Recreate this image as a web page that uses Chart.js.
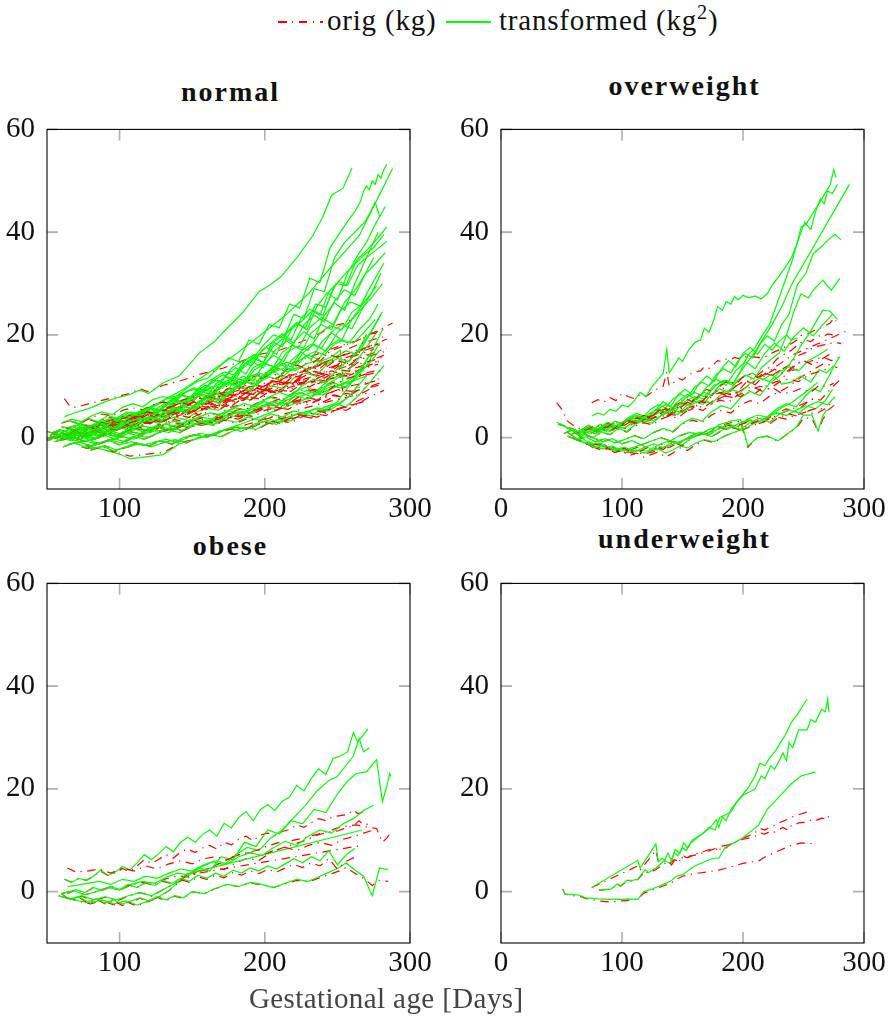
<!DOCTYPE html>
<html><head><meta charset="utf-8">
<script src="https://cdn.jsdelivr.net/npm/chart.js@4.4.0/dist/chart.umd.min.js"></script>
<style>
html,body{margin:0;padding:0;overflow:hidden;background:#fff;}
body{width:891px;height:1021px;position:relative;}
canvas{position:absolute;}
.t{position:absolute;line-height:1;white-space:nowrap;font-family:'Liberation Serif','DejaVu Serif',serif;color:#111;}
.title{font-weight:bold;font-size:28px;letter-spacing:2px;text-align:center;width:363px;padding-left:2px;}
.leg{font-size:29px;letter-spacing:0.8px;top:5.7px;}
.sample{position:absolute;top:21px;width:45px;height:1.6px;}
sup{font-size:70%;line-height:0;vertical-align:0.55em;}
</style>
</head><body>
<div class="sample" style="left:278px;background:repeating-linear-gradient(to right,#ff0000 0 8.5px,transparent 8.5px 14px,#ff0000 14px 15.3px,transparent 15.3px 21px);"></div>
<div class="t leg" style="left:327px;">orig (kg)</div>
<div class="sample" style="left:446px;background:#00ff00;"></div>
<div class="t leg" style="left:499px;">transformed (kg<sup>2</sup>)</div>

<div class="t title" style="left:47px;top:78.2px;">normal</div>
<div class="t title" style="left:501px;top:71.5px;">overweight</div>
<div class="t title" style="left:47px;top:531.5px;">obese</div>
<div class="t title" style="left:501px;top:524.8px;">underweight</div>

<canvas id="cNormal" width="437" height="440" style="left:0px;top:100px;"></canvas>
<canvas id="cOver" width="437" height="440" style="left:454px;top:100px;"></canvas>
<canvas id="cObese" width="437" height="440" style="left:0px;top:554px;"></canvas>
<canvas id="cUnder" width="437" height="440" style="left:454px;top:554px;"></canvas>

<div class="t" style="left:249px;top:984px;font-size:29px;letter-spacing:0.4px;color:#444;">Gestational age [Days]</div>

<script>
// ---------------- DATA ----------------
const yTicks = [0, 20, 40, 60];
const xTicksNarrow = [100, 200, 300];
const xTicksWide = [0, 100, 200, 300];

// normal
const normalDays = [
 [62,66,70,80,90,100,107,114,120,130,141,148,155,165,172,185,196,204,211,222,233,240,246,254,260],
 [52,58,64,70,77,84,91,98,105,112,119,126,133,140,147,154,161,168,175,182,189,196,203,210,217,224,231,238,245,252,258,262,266,268,270,272,274,276,278,280,282,284],
 [55,65,75,85,100,115,130,145,160,175,190,200,215,230,245,265,288],
 [50,57,63,70,77,84,92,99,106,113,121,128,135,143,150,157,164,171,178,185,192,199,206,213,220,227,234,241,248,255,262,269,273,276,279],
 [54,60,67,74,81,88,95,102,109,116,123,130,137,144,151,158,165,172,179,186,193,200,207,214,221,228,235,242,249,256,263,270,277,284],
 [58,65,72,79,86,93,100,107,114,121,128,135,142,149,156,163,170,177,184,191,198,205,212,219,226,233,240,247,254,261,268,275,282],
 [51,56,62,69,75,82,88,95,101,108,114,121,127,134,140,147,153,160,166,173,179,186,192,199,205,212,218,225,231,238,244,251,257,264,270,277,284],
 [60,67,73,80,87,94,101,108,115,122,129,136,143,150,157,164,171,178,185,192,199,206,213,220,227,234,241,248,255,262,269,276,283],
 [53,59,66,72,79,86,92,99,106,112,119,126,132,139,146,152,159,166,172,179,186,192,199,206,212,219,226,232,239,246,252,259,266,272,276,282],
 [57,64,71,78,85,92,99,106,113,120,127,134,141,148,155,162,169,176,183,190,197,204,211,218,225,232,239,246,253,260,267,274,280],
 [50,58,65,73,80,88,95,103,110,118,125,133,140,148,155,163,170,178,185,193,200,208,215,223,230,238,245,253,260,268,277],
 [62,69,76,83,90,97,104,111,118,125,132,139,146,153,160,167,174,181,188,195,202,209,216,223,230,237,244,251,258,265,272,278],
 [55,63,70,78,85,93,100,108,115,123,130,138,145,153,160,168,175,183,190,198,205,213,220,228,235,243,250,258,265,273,281],
 [66,72,79,85,92,98,105,111,118,124,131,137,144,150,157,163,170,176,183,189,196,202,209,215,222,228,235,241,248,254,261,268,276],
 [52,60,68,76,84,92,100,108,116,124,132,140,148,156,164,172,180,188,196,204,212,220,228,236,244,252,260,268,275,281],
 [60,67,74,81,88,95,102,109,116,123,130,137,144,151,158,165,172,179,186,193,200,207,214,221,228,235,242,249,256,263,270],
 [70,78,86,94,102,110,118,126,134,142,150,158,166,174,182,190,198,206,214,222,230,238,246,254,262,270,279],
 [56,63,70,77,84,91,98,105,112,119,126,133,140,147,154,161,168,175,182,189,196,203,210,217,224,231,238,245,252,254],
 [64,72,80,88,96,104,112,120,128,136,144,152,160,168,176,184,192,200,208,216,224,232,240,248,256,264,272],
 [74,82,90,98,106,114,122,130,138,146,154,162,170,178,186,194,202,210,218,226,234,242,250,258,268],
 [76,84,92,100,107,114,122,130,136,141,148,156,164,172,180,188,196,204,212,220,228,236,244,252,260,270],
 [68,76,84,92,100,108,116,124,132,140,148,156,164,172,180,188,196,204,212,220,228,236,244,252,258,265],
 [54,61,68,75,82,89,96,103,110,117,124,131,138,145,152,159,166,173,180,187,194,201,208,215,222,229,236,243,250,257,264,270,276,283],
 [59,66,73,80,87,94,101,108,115,122,129,136,143,150,157,164,171,178,185,192,199,206,213,220,227,234,241,248,255,262,270,278],
 [63,71,79,87,95,103,111,119,127,135,143,151,159,167,175,183,191,199,207,215,223,231,239,247,255,263,269,275],
 [50,57,64,71,78,85,92,99,106,113,120,127,134,141,148,155,162,169,176,183,190,197,204,211,218,225,232,239,246,253,260,267,274,281],
 [66,74,82,90,98,106,114,122,130,138,146,154,162,170,178,186,194,202,210,218,226,234,242,250,258,264,270],
 [58,66,74,82,90,98,106,114,122,130,138,146,154,162,170,178,186,194,202,210,218,226,234,242,250,258,266,273,280],
 [61,69,77,85,93,101,109,117,125,133,141,149,157,165,173,181,189,197,205,213,221,229,237,245,253,261,268,276],
 [72,80,88,96,104,112,120,128,136,144,152,160,168,176,184,192,200,208,216,224,232,240,248,256,264,272,279],
 [80,88,96,104,112,120,128,136,144,152,160,168,176,184,192,200,208,216,224,232,240,248,256,264,272,282],
 [60,68,76,84,92,100,108,116,124,132,140,148,156,164,172,180,188,196,204,212,220,228,236,244,252,260,270]
];
const normalOrig = [
 [7.6,6.0,5.9,6.7,7.4,8.1,8.6,9.5,8.9,10.2,11.0,11.6,12.3,13.0,13.6,15.0,16.2,16.6,17.1,18.3,19.6,20.6,21.7,22.2,23.0],
 [0.4,1.1,0.6,1.5,1.2,2.2,2.0,3.1,3.6,3.3,4.6,5.0,5.8,6.1,7.0,7.6,7.9,8.9,9.6,9.4,11.2,11.0,12.4,12.2,13.6,13.4,15.1,14.9,16.8,17.6,18.3,18.7,19.2,19.7,20.0,19.8,20.4,20.2,20.8,20.6,21.2,21.6],
 [0.1,0.6,0.3,1.2,2.5,3.8,5.6,7.0,8.6,10.1,11.6,12.6,14.0,15.6,17.2,19.0,22.3],
 [-0.2,0.5,0.2,1.0,0.7,1.8,1.4,2.5,2.2,3.3,3.9,3.6,4.8,5.4,5.1,6.4,7.0,6.7,8.0,8.6,9.0,10.0,10.8,11.5,12.2,13.0,13.8,14.6,15.4,16.2,16.8,17.4,17.9,18.4,18.0],
 [0.8,0.3,1.2,0.9,1.8,2.5,2.1,3.2,3.8,3.5,4.7,5.3,5.0,6.3,6.9,6.6,7.9,8.5,8.2,9.6,10.1,9.8,11.2,11.8,12.6,13.3,14.0,14.8,15.5,16.2,17.0,17.6,18.3,19.2],
 [1.5,1.0,2.0,1.6,2.6,2.2,3.3,3.0,4.1,4.6,4.3,5.5,6.1,5.8,7.1,7.7,7.4,8.8,9.4,9.0,10.4,11.1,10.7,12.2,12.8,13.6,13.2,14.7,15.3,16.1,16.9,17.6,18.4],
 [-0.6,0.2,-0.3,0.8,0.4,1.0,1.8,1.2,2.4,2.0,3.1,2.7,3.9,4.4,4.0,5.3,5.9,5.5,6.8,7.4,7.0,8.5,9.2,8.6,10.2,10.8,10.3,11.8,12.4,12.0,13.6,14.2,13.9,15.3,16.0,16.7,17.4],
 [2.1,1.7,2.6,2.2,3.0,2.7,3.6,4.2,3.8,4.9,5.4,5.0,6.2,6.8,6.4,7.6,8.2,7.8,9.1,9.7,9.3,10.7,11.3,10.9,12.3,12.9,12.5,13.9,14.6,14.2,15.6,16.2,16.8],
 [0.9,1.5,1.0,1.9,1.5,2.4,2.0,3.0,2.7,3.6,4.2,3.8,4.9,5.4,5.0,6.2,6.7,6.3,7.5,8.0,7.6,8.9,9.4,9.0,10.3,10.9,10.5,11.9,12.5,12.1,13.5,14.1,13.8,15.0,15.4,16.0],
 [0.2,-0.4,0.5,0.1,1.0,0.6,1.6,2.2,1.8,2.9,3.5,3.1,4.3,4.9,4.5,5.8,6.4,6.0,7.3,7.9,7.5,8.8,9.4,9.0,10.4,11.0,10.6,12.0,12.6,12.3,13.6,14.3,15.0],
 [1.2,0.6,1.6,1.1,2.1,1.6,2.7,2.2,3.4,3.0,4.2,4.8,4.4,5.6,6.2,5.8,7.0,7.6,7.2,8.6,9.2,8.8,10.2,10.8,10.4,11.8,12.4,12.0,13.4,14.0,14.8],
 [0.5,1.0,0.6,1.4,1.0,1.9,2.5,2.1,3.2,3.8,3.4,4.5,5.1,4.7,5.9,6.5,6.1,7.3,7.9,7.5,8.8,9.4,9.0,10.3,10.9,10.5,11.8,12.4,12.0,13.2,13.8,14.3],
 [-0.8,-0.2,-0.6,0.3,-0.1,0.9,0.5,1.5,2.1,1.7,2.9,3.5,3.1,4.3,4.9,4.5,5.8,6.4,6.0,7.3,7.9,7.5,8.8,9.4,9.0,10.4,11.0,10.6,11.9,12.4,13.0],
 [3.2,2.6,3.5,3.0,4.0,3.6,4.5,4.1,5.1,4.7,5.7,6.2,5.8,6.8,7.3,6.9,7.9,8.4,8.0,9.1,9.6,9.2,10.3,10.8,10.4,11.5,12.0,11.6,12.7,13.1,12.8,13.6,14.4],
 [0.3,-0.5,0.0,-0.8,-0.2,0.6,0.1,1.1,0.7,1.8,2.4,2.0,3.1,3.6,3.3,4.4,5.0,4.6,5.8,6.4,6.0,7.2,7.8,7.4,8.7,9.3,9.0,10.3,11.0,11.8],
 [2.8,3.4,3.0,4.0,4.6,4.2,5.3,5.8,5.4,6.4,6.9,6.5,7.4,7.9,7.5,8.3,8.8,8.4,9.2,9.7,9.3,10.1,10.6,10.2,11.0,11.4,11.0,11.7,12.1,11.8,12.4],
 [-1.0,-0.4,-1.2,-0.5,0.2,-0.3,0.8,1.4,1.0,2.1,2.7,2.3,3.4,4.0,3.6,4.8,5.4,5.0,6.2,6.8,6.4,7.6,8.2,7.9,9.0,9.8,10.6],
 [0.6,0.0,1.0,0.4,1.5,1.1,2.1,1.7,2.8,3.4,3.0,4.2,4.8,4.4,5.6,6.2,5.8,7.0,7.6,7.2,8.4,9.0,8.6,9.8,10.3,9.9,11.0,11.5,11.8,8.6],
 [-1.4,-0.8,-1.6,-1.0,-0.2,-0.8,0.4,0.0,1.1,1.7,1.3,2.5,3.1,2.7,3.9,4.5,4.1,5.3,5.9,5.5,6.7,7.3,6.9,8.0,8.6,8.2,9.4],
 [-1.8,-2.2,-1.6,-2.4,-1.8,-1.2,-1.8,-1.0,-0.4,-1.0,0.0,0.6,0.2,1.3,1.9,1.5,2.7,3.3,2.9,4.1,4.7,4.3,5.5,6.1,7.0],
 [-1.5,-2.0,-2.6,-3.0,-3.6,-3.4,-3.1,-2.9,-2.0,-1.0,-0.6,0.0,0.6,1.3,1.9,2.6,3.2,3.9,4.5,5.1,5.8,6.4,7.0,7.6,8.1,8.6],
 [0.0,-0.6,-1.2,-0.5,-1.4,-0.8,-1.5,-0.9,-0.3,-0.9,0.2,0.8,0.4,1.4,2.0,1.6,2.6,3.2,2.8,3.8,4.4,4.0,5.0,5.6,6.2,6.8],
 [1.0,0.4,1.3,1.9,1.5,2.6,3.1,2.7,3.9,4.6,4.1,5.5,6.3,5.8,7.3,8.2,7.6,9.2,10.1,9.4,11.1,12.0,11.3,13.2,14.1,13.5,15.2,16.2,15.7,17.2,18.1,18.6,19.2,19.7],
 [-0.6,0.3,-0.2,0.9,0.4,1.5,2.1,1.7,2.9,3.5,3.0,4.5,5.2,4.7,6.3,7.1,6.6,8.2,9.0,8.4,10.1,11.0,10.4,12.1,13.0,12.4,14.2,15.1,14.6,16.4,17.5,18.2],
 [1.8,2.4,2.0,2.9,3.5,3.0,4.3,5.0,4.5,6.0,6.8,6.2,7.8,8.7,8.0,9.7,10.6,9.9,11.5,12.4,11.8,13.4,14.2,13.6,15.2,16.0,16.6,17.2],
 [-0.5,0.4,-0.1,0.8,0.3,1.2,0.8,1.8,1.4,2.4,3.0,2.5,3.8,4.4,3.9,5.3,6.0,5.4,7.0,7.8,7.2,8.8,9.6,8.9,10.5,11.3,10.6,12.2,13.0,12.4,13.9,14.5,15.0,15.6],
 [0.8,1.5,1.0,2.0,1.5,2.8,3.4,2.9,4.2,5.0,4.4,5.9,6.8,6.1,7.8,8.7,8.1,9.9,10.9,10.2,11.8,12.8,12.0,13.8,14.6,15.4,16.2],
 [0.2,-0.7,0.4,-0.2,0.8,0.2,1.2,1.7,1.1,2.4,2.9,2.4,3.6,4.3,3.8,5.1,5.8,5.3,6.7,7.5,6.9,8.5,9.4,8.8,10.6,11.6,12.3,12.8,13.2],
 [-1.8,-1.0,-2.1,-1.3,-0.4,-1.1,0.2,-0.3,0.8,1.5,0.9,2.2,2.9,2.4,3.8,4.5,4.0,5.4,6.2,5.6,7.1,7.8,7.2,8.8,9.6,10.2,10.6,11.0],
 [0.4,-0.4,0.6,-0.2,1.0,0.4,1.5,2.0,1.5,2.7,3.2,2.7,3.9,4.5,4.0,5.3,5.9,5.3,6.6,7.2,6.6,7.8,8.3,7.7,9.2,9.8,10.2],
 [-2.5,-1.7,-2.8,-1.9,-1.0,-1.7,-0.6,-1.3,0.0,0.6,0.0,1.2,1.7,1.2,2.4,3.0,2.5,3.6,4.3,3.8,5.1,5.8,5.3,6.6,7.9,9.2],
 [0.8,0.2,1.0,0.4,1.4,0.8,1.7,1.2,2.1,1.5,2.5,1.9,2.8,2.3,3.4,2.8,3.7,3.2,4.2,3.7,4.7,4.2,5.2,4.7,5.8,6.6,8.0]
];
const normalTrans = [
 [4.1,4.5,4.9,5.8,7.0,7.9,8.4,9.3,8.6,10.7,12.0,14.2,16.5,18.6,20.7,24.4,28.4,29.8,31.3,35.0,39.3,43.0,47.2,48.6,52.5],
 [0.4,1.2,0.6,1.6,1.3,2.5,2.2,3.6,4.3,3.9,5.8,6.5,7.7,8.2,9.8,11.0,11.6,13.6,15.5,14.8,19.0,18.2,22.0,21.4,26.0,25.2,31.0,30.2,37.0,40.0,42.5,44.0,46.0,48.0,49.0,48.2,50.0,49.3,51.2,50.5,52.2,53.2],
 [0.1,0.6,0.3,1.3,2.8,4.6,7.2,9.6,12.4,15.2,18.4,20.6,24.0,28.0,33.0,39.3,52.4],
 [-0.2,0.5,0.2,1.0,0.7,2.0,1.5,2.9,2.5,4.0,4.9,4.5,6.3,7.2,6.8,8.9,10.0,9.6,12.0,14.0,15.5,18.0,20.0,19.4,24.0,23.2,29.0,28.4,35.0,38.0,40.0,42.0,44.0,45.8,43.2],
 [0.8,0.3,1.2,0.9,2.0,2.9,2.4,3.8,4.6,4.2,6.0,7.0,6.5,8.6,9.7,9.2,11.6,12.8,12.2,15.0,16.2,15.6,18.8,20.2,22.2,21.4,26.0,25.4,30.0,29.6,34.5,36.4,38.6,41.0],
 [1.5,1.0,2.1,1.7,2.9,2.4,3.9,3.5,5.0,5.8,5.4,7.3,8.3,7.9,10.1,11.3,10.8,13.5,14.8,14.0,17.0,18.6,17.7,21.3,22.8,24.8,23.8,29.0,31.5,33.5,35.5,37.0,39.5],
 [-0.6,0.2,-0.3,0.8,0.4,1.0,2.0,1.3,2.8,2.3,3.8,3.2,5.0,5.8,5.2,7.4,8.6,7.9,10.4,11.8,11.0,14.2,16.0,14.6,18.6,20.2,19.0,23.2,25.0,23.8,28.4,30.4,29.6,33.6,35.0,36.6,38.2],
 [2.1,1.7,2.7,2.3,3.3,2.9,4.1,5.0,4.4,6.2,7.0,6.4,8.4,9.5,8.8,11.0,12.2,11.4,14.0,15.4,14.6,17.8,19.4,18.4,22.0,23.8,22.6,26.6,28.8,27.6,31.8,33.8,36.0],
 [0.9,1.5,1.0,2.0,1.6,2.7,2.2,3.5,3.1,4.4,5.2,4.7,6.3,7.1,6.5,8.4,9.3,8.7,10.8,11.8,11.0,13.6,14.6,13.8,16.6,18.0,17.0,20.4,22.0,21.0,24.6,26.4,25.6,29.0,31.0,34.0],
 [0.2,-0.4,0.5,0.1,1.0,0.6,1.7,2.5,2.0,3.4,4.2,3.7,5.4,6.3,5.7,7.8,8.8,8.2,10.4,11.6,10.9,13.4,14.6,13.8,16.8,18.2,17.4,20.6,22.0,21.2,25.0,28.4,32.0],
 [1.2,0.6,1.6,1.1,2.2,1.7,3.0,2.4,4.0,3.4,5.2,6.2,5.6,7.6,8.6,7.9,10.0,11.2,10.5,13.2,14.4,13.6,16.6,17.8,17.0,20.4,21.8,21.0,24.4,26.2,29.5],
 [0.5,1.0,0.6,1.5,1.1,2.1,2.9,2.4,3.8,4.6,4.1,5.6,6.5,6.0,7.7,8.7,8.1,9.9,10.9,10.3,12.4,13.4,12.8,14.9,16.0,15.3,17.8,19.0,18.4,21.0,23.0,26.0],
 [-0.8,-0.2,-0.6,0.3,-0.1,0.9,0.5,1.6,2.3,1.9,3.3,4.0,3.5,5.0,5.8,5.3,7.0,7.9,7.3,9.2,10.1,9.5,11.6,12.6,12.0,14.3,15.4,14.8,17.4,20.6,24.5],
 [3.3,2.7,3.7,3.1,4.3,3.8,5.0,4.5,5.8,5.3,6.7,7.4,6.9,8.3,9.0,8.4,9.9,10.7,10.1,11.8,12.6,12.0,13.8,14.7,14.0,15.9,16.8,16.1,18.2,19.0,18.4,20.4,23.0],
 [0.3,-0.5,0.0,-0.8,-0.2,0.6,0.1,1.1,0.7,1.9,2.6,2.1,3.4,4.0,3.6,5.0,5.8,5.3,6.9,7.8,7.2,8.9,9.8,9.2,11.2,12.2,11.6,14.0,17.5,21.0],
 [2.9,3.6,3.1,4.3,5.0,4.5,5.9,6.6,6.0,7.4,8.0,7.5,8.7,9.4,8.9,10.0,10.8,10.2,11.4,12.2,11.6,12.9,13.6,13.0,14.3,15.0,14.4,15.8,16.9,16.2,20.0],
 [-1.0,-0.4,-1.2,-0.5,0.2,-0.3,0.8,1.4,1.0,2.2,2.9,2.4,3.7,4.4,4.0,5.4,6.2,5.7,7.2,8.0,7.5,9.0,10.0,9.6,11.2,14.0,18.5],
 [0.6,0.0,1.0,0.4,1.6,1.2,2.3,1.9,3.2,4.0,3.5,5.0,5.8,5.3,6.9,7.8,7.2,8.9,9.8,9.2,10.9,11.8,11.2,13.0,13.8,13.2,14.8,15.6,17.0,10.2],
 [-1.4,-0.8,-1.6,-1.0,-0.2,-0.8,0.4,0.0,1.1,1.8,1.4,2.7,3.4,3.0,4.4,5.1,4.7,6.2,7.0,6.5,8.0,8.8,8.3,9.9,10.8,12.5,16.0],
 [-1.8,-2.2,-1.6,-2.4,-1.8,-1.2,-1.8,-1.0,-0.4,-1.0,0.0,0.6,0.2,1.3,2.0,1.6,2.9,3.6,3.2,4.7,5.6,5.1,7.0,10.0,14.0],
 [-1.5,-2.0,-2.6,-3.2,-4.1,-3.9,-3.6,-3.3,-2.2,-1.2,-0.7,0.0,0.7,1.5,2.3,3.1,4.0,4.9,5.7,6.6,7.5,8.4,9.3,10.2,11.0,12.0],
 [0.0,-0.6,-1.2,-0.5,-1.4,-0.8,-1.5,-0.9,-0.3,-0.9,0.2,0.8,0.4,1.4,2.1,1.7,2.8,3.5,3.0,4.3,5.0,4.5,5.9,6.8,8.0,10.5],
 [1.0,0.4,1.4,2.0,1.5,2.8,3.4,2.9,4.4,5.2,4.6,6.4,7.4,6.7,8.9,10.2,9.3,12.0,13.6,12.4,15.8,17.6,16.2,20.2,22.4,21.0,25.6,28.2,26.8,32.0,35.5,38.0,41.5,45.0],
 [-0.6,0.3,-0.2,0.9,0.4,1.6,2.3,1.8,3.2,4.0,3.4,5.2,6.2,5.5,7.6,8.8,8.0,10.6,12.0,11.0,14.2,16.0,14.8,18.6,20.6,19.2,23.8,26.2,24.8,30.0,35.0,40.0],
 [1.8,2.5,2.0,3.1,3.8,3.2,4.8,5.7,5.0,7.0,8.2,7.3,9.8,11.2,10.2,13.2,14.8,13.6,17.0,18.8,17.4,21.4,23.4,22.0,26.4,29.0,31.8,35.0],
 [-0.5,0.4,-0.1,0.8,0.3,1.3,0.8,2.0,1.5,2.7,3.4,2.8,4.4,5.2,4.6,6.4,7.4,6.6,8.8,10.0,9.0,11.8,13.2,12.0,15.0,16.6,15.2,18.6,20.4,19.0,23.0,25.2,27.4,30.0],
 [0.8,1.6,1.0,2.2,1.6,3.0,3.8,3.2,4.8,5.8,5.0,7.0,8.2,7.2,9.6,11.0,10.0,12.8,14.4,13.2,16.4,18.2,16.8,20.4,22.4,24.6,27.0],
 [0.2,-0.6,0.4,-0.2,0.8,0.2,1.2,1.8,1.2,2.6,3.2,2.6,4.0,4.8,4.2,5.8,6.6,6.0,7.8,8.8,8.0,10.2,11.4,10.6,13.4,15.0,17.2,20.4,24.0],
 [-1.8,-1.0,-2.0,-1.2,-0.4,-1.0,0.2,-0.3,0.8,1.6,1.0,2.4,3.2,2.6,4.2,5.0,4.4,6.0,7.0,6.2,8.2,9.2,8.4,10.8,12.0,14.0,16.8,20.0],
 [0.4,-0.4,0.6,-0.2,1.0,0.4,1.6,2.2,1.6,3.0,3.6,3.0,4.4,5.2,4.6,6.2,7.0,6.2,8.0,8.8,8.0,9.8,10.6,9.8,12.4,14.4,17.0],
 [-2.4,-1.6,-2.6,-1.8,-1.0,-1.6,-0.6,-1.2,0.0,0.6,0.0,1.2,1.8,1.2,2.6,3.2,2.6,4.0,4.8,4.2,5.8,6.6,6.0,8.0,10.6,14.0],
 [0.8,0.2,1.0,0.4,1.4,0.8,1.8,1.2,2.2,1.6,2.6,2.0,3.0,2.4,3.6,3.0,4.0,3.4,4.6,4.0,5.2,4.6,5.8,5.2,6.6,8.6,12.0]
];

// overweight
const overDays = [
 [75,80,85,90,95,100,105,110,115,120,125,130,134,137,139,143,147,150,155,160,165,168,172,176,179,183,186,190,193,196,200,205,210,215,220,225,230,235,240,245,248,252,256,260,264,268,272,275,277],
 [60,66,72,78,84,90,96,102,108,114,120,126,132,138,144,150,156,162,168,174,180,186,192,198,204,210,216,222,228,234,240,245,251,256,260,264,267,270,274,278],
 [58,65,72,80,88,96,104,112,120,128,136,144,152,160,168,176,184,192,200,208,216,224,232,240,288],
 [52,58,64,70,76,82,88,94,100,106,112,118,124,130,136,142,148,154,160,166,172,178,184,190,196,202,208,214,220,226,232,238,245,252,258,264,270,276,281],
 [55,62,69,76,83,90,97,104,111,118,125,132,139,146,153,160,167,174,181,188,195,202,209,216,223,230,236,242,248,254,259,266,273,280],
 [62,70,78,86,94,102,110,118,126,134,142,150,158,166,174,182,190,198,206,214,222,230,236,242,248,254,259,266,272,278],
 [60,68,76,84,92,100,108,116,124,132,140,148,156,164,172,180,188,196,204,212,220,228,236,244,252,258,264,270,275,280],
 [56,64,72,80,88,96,104,112,120,128,136,144,152,160,168,176,184,192,200,208,216,224,232,240,248,256,263,269,275],
 [64,72,80,88,96,104,112,120,128,134,140,146,152,158,164,170,176,182,188,194,200,206,212,218,224,230,236,240,245],
 [55,60,70,80,90,100,110,120,130,140,150,160,170,175,180,190,198,204,212,220,229,237,244,250,257,262,266,269],
 [47,52,58,64,70,76,82,88,94,100,106,112,118,124,130,136,142,148,154,160,168,176,184,192,200,208,216,224,232,240,248,256,262],
 [46,50,55,62,70,78,86,94,102,110,118,126,134,142,150,158,166,174,182,190,198,206,214,222,230,238,246,254,262,270],
 [68,76,84,92,100,108,116,124,132,140,148,156,164,172,180,188,196,204,212,220,228,236,244,252,260,268,274],
 [58,66,74,82,90,98,106,114,122,130,138,146,154,162,170,178,186,194,202,210,218,226,234,242,250,258,266,274],
 [70,78,86,94,102,110,118,126,134,142,150,158,166,174,182,190,198,206,214,222,230,238,246,254,262,270,276]
];
const overOrig = [
 [6.8,7.4,6.9,7.8,7.2,8.6,8.0,7.6,8.4,8.0,8.9,9.6,10.0,12.8,10.1,10.8,11.5,11.2,12.2,12.8,13.0,13.8,13.5,14.3,15.0,14.8,15.3,15.2,15.6,15.4,15.8,15.6,15.7,15.5,15.9,16.6,17.1,17.7,18.3,19.1,19.9,20.0,20.5,21.0,21.4,21.8,22.3,23.3,22.7],
 [1.0,0.5,1.2,0.8,1.5,1.1,2.0,1.7,2.6,3.1,2.8,3.8,4.3,4.0,5.1,5.7,5.3,6.4,7.1,6.7,7.9,8.6,8.2,9.6,11.1,11.8,12.9,13.7,15.3,16.2,17.0,18.0,19.0,18.7,19.4,19.9,19.7,20.2,20.0,20.5],
 [1.5,0.8,1.7,1.2,2.2,1.8,2.9,3.4,3.1,4.2,4.7,4.4,5.6,6.2,5.9,7.3,8.1,7.8,9.4,10.7,12.1,13.3,14.6,16.0,21.0],
 [0.8,1.4,1.0,1.9,1.4,2.4,1.9,2.9,2.6,3.6,4.1,3.7,4.8,5.4,5.0,6.1,6.8,6.3,7.6,8.2,7.8,9.0,9.6,9.2,10.4,11.0,10.6,11.8,12.4,12.0,13.3,14.1,15.9,16.6,17.6,17.9,18.2,18.6,18.3],
 [0.3,-0.4,0.6,0.0,1.0,0.6,1.6,1.1,2.3,2.9,2.5,3.6,4.2,3.8,5.1,5.7,5.3,6.6,7.3,6.9,8.2,8.9,8.4,9.7,10.5,11.1,12.4,13.8,14.9,14.6,15.2,15.7,15.0,15.7],
 [-0.5,0.2,-0.8,-0.2,-1.0,-0.4,0.4,-0.2,1.0,1.7,1.1,2.6,3.4,2.9,4.4,5.3,4.8,6.4,7.2,6.6,8.1,8.9,9.7,10.7,11.8,12.6,13.4,14.3,14.2,13.6],
 [0.0,-1.1,-1.8,-2.5,-1.8,-3.0,-2.3,-1.6,-2.6,-1.4,-0.7,-1.1,0.2,1.0,0.6,1.7,2.4,2.1,3.2,3.9,3.6,4.8,5.6,5.1,6.7,7.6,7.3,8.8,10.1,11.2],
 [2.0,1.2,2.3,1.5,2.8,2.1,3.3,4.0,3.5,4.8,5.6,5.0,6.5,7.4,6.8,8.4,8.9,8.4,9.4,9.9,9.0,9.8,8.6,8.8,9.6,8.8,10.2,9.9,10.6],
 [1.2,1.9,1.4,2.4,1.9,3.1,3.8,3.3,4.8,6.0,5.3,6.9,7.7,7.0,8.5,9.4,8.8,10.2,11.1,10.4,11.8,12.4,11.7,12.7,12.1,13.0,13.6,13.1,13.3],
 [1.0,0.2,-1.1,-1.7,-2.3,-2.7,-3.0,-3.1,-2.5,-1.8,-0.6,0.3,0.8,1.4,2.3,2.9,3.2,-1.9,0.0,0.3,-0.7,0.8,1.8,3.8,3.8,1.2,3.6,4.5],
 [2.6,2.3,1.6,0.5,-0.7,-1.4,-1.2,-2.1,-2.9,-2.5,-3.5,-3.0,-3.8,-3.3,-2.8,-3.8,-3.0,-2.0,-2.5,-1.5,-0.5,-1.0,0.2,1.0,1.5,2.4,3.0,3.9,4.8,5.5,6.4,7.3,8.0],
 [6.8,5.6,3.2,2.0,1.4,2.4,1.8,3.0,2.4,3.6,4.3,3.8,5.0,5.6,5.1,6.4,7.0,6.5,7.8,8.5,8.0,9.3,10.0,9.5,10.8,11.4,10.9,12.2,12.8,13.4],
 [0.8,0.0,-0.8,-0.2,-1.2,-0.6,-1.4,-0.7,0.0,-0.6,0.4,1.0,0.6,1.5,2.0,1.6,2.4,3.0,2.6,3.4,4.0,3.6,4.4,5.0,4.6,5.6,7.0],
 [0.6,1.3,0.8,1.8,1.3,2.5,3.2,2.7,4.0,4.8,4.2,5.9,6.9,6.2,7.9,9.0,8.2,10.0,11.2,10.3,12.1,13.3,12.4,14.0,15.0,14.1,15.4,16.6],
 [-1.1,-2.2,-1.5,-2.9,-2.0,-3.2,-2.3,-1.4,-2.3,-0.9,-1.6,0.0,0.8,0.2,1.3,2.0,1.5,2.7,3.4,2.7,4.0,4.6,4.1,5.2,5.8,5.3,6.4]
];
const overTrans = [
 [4.2,4.8,4.4,5.5,5.1,6.3,6.0,7.1,8.8,8.0,10.0,11.4,12.5,17.2,12.6,14.0,15.5,14.8,17.0,18.5,19.0,21.3,20.5,23.0,25.5,24.8,26.5,26.0,27.5,26.8,27.7,27.2,27.6,27.0,28.0,30.0,31.5,33.2,35.0,38.0,41.0,41.5,43.0,44.6,46.0,47.6,49.2,52.2,50.6],
 [1.0,0.5,1.3,0.8,1.6,1.2,2.2,1.8,2.9,3.5,3.1,4.3,5.0,4.6,6.0,6.8,6.3,7.8,8.8,8.2,10.0,11.2,10.5,13.0,16.0,17.5,20.0,22.0,26.0,30.0,34.0,38.0,41.9,40.5,44.0,46.5,45.5,48.0,47.5,49.3],
 [1.5,0.8,1.8,1.2,2.4,1.9,3.2,3.9,3.4,4.9,5.7,5.2,7.0,8.0,7.5,9.8,11.2,10.6,13.5,16.0,19.0,22.0,25.5,29.7,49.3],
 [0.8,1.5,1.0,2.0,1.5,2.6,2.1,3.2,2.8,4.0,4.7,4.2,5.6,6.4,5.8,7.5,8.4,7.8,9.8,10.8,10.1,12.3,13.4,12.6,15.0,16.4,15.5,18.2,19.8,18.8,22.0,24.0,29.8,32.0,35.8,37.0,38.4,39.6,38.5],
 [0.3,-0.4,0.6,0.0,1.1,0.6,1.8,1.2,2.6,3.3,2.8,4.2,5.0,4.5,6.2,7.1,6.5,8.4,9.5,8.8,11.0,12.2,11.4,13.8,15.2,16.5,20.0,24.5,28.0,27.2,29.0,30.6,28.7,31.0],
 [-0.5,0.2,-0.8,-0.2,-1.0,-0.4,0.4,-0.2,1.0,1.8,1.2,2.8,3.8,3.2,5.0,6.2,5.6,7.8,9.0,8.2,10.6,12.0,13.5,15.5,18.0,20.0,22.0,24.8,24.6,23.0],
 [0.0,-1.0,-1.6,-2.2,-1.6,-2.6,-2.0,-1.4,-2.2,-1.2,-0.6,-1.0,0.2,1.0,0.6,1.8,2.6,2.2,3.6,4.4,4.0,5.6,6.6,6.0,8.2,9.5,9.0,11.5,13.8,15.8],
 [2.0,1.2,2.4,1.6,3.0,2.2,3.6,4.4,3.8,5.4,6.4,5.6,7.6,8.8,8.0,10.2,11.0,10.2,11.8,12.6,11.2,12.4,10.4,10.8,12.0,10.8,13.2,12.6,14.0],
 [1.2,2.0,1.4,2.6,2.0,3.4,4.2,3.6,5.4,7.0,6.0,8.2,9.4,8.4,10.6,12.0,11.0,13.4,15.0,13.8,16.4,17.6,16.2,18.2,17.0,18.8,20.0,19.0,19.4],
 [1.0,0.2,-1.0,-1.5,-2.0,-2.3,-2.5,-2.6,-2.1,-1.5,-0.5,0.3,0.8,1.5,2.5,3.2,3.5,-1.6,0.0,0.3,-0.6,0.8,2.0,4.4,4.4,1.3,4.2,5.4],
 [2.6,2.3,1.6,0.5,-0.6,-1.2,-1.0,-1.8,-2.4,-2.0,-2.8,-2.4,-3.0,-2.6,-2.2,-3.0,-2.4,-1.6,-2.0,-1.2,-0.4,-0.8,0.2,1.0,1.6,2.6,3.4,4.6,5.8,6.8,8.2,9.6,10.8],
 [3.0,2.6,1.8,1.2,0.9,1.8,1.3,2.4,1.9,3.0,3.8,3.3,4.6,5.4,4.8,6.5,7.3,6.7,8.4,9.4,8.8,10.6,11.6,10.9,12.8,13.8,13.0,15.0,16.0,17.2],
 [0.8,0.0,-0.8,-0.2,-1.2,-0.6,-1.4,-0.7,0.0,-0.6,0.4,1.0,0.6,1.6,2.2,1.7,2.7,3.5,3.0,4.0,4.8,4.3,5.4,6.2,5.6,7.2,9.4],
 [0.6,1.4,0.8,2.0,1.4,2.8,3.6,3.0,4.6,5.6,4.8,7.0,8.4,7.4,9.8,11.4,10.2,13.0,14.8,13.4,16.4,18.4,16.8,19.6,21.4,19.8,22.0,24.0],
 [-1.0,-2.0,-1.4,-2.6,-1.8,-2.8,-2.0,-1.2,-2.0,-0.8,-1.4,0.0,0.8,0.2,1.4,2.2,1.6,3.0,3.8,3.0,4.6,5.4,4.8,6.2,7.0,6.4,8.0]
];

// obese
const obeseDays = [
 [62,67,72,77,82,87,92,97,102,107,112,117,122,127,132,137,142,147,152,157,162,167,172,177,182,187,192,197,202,207,212,217,222,227,232,237,242,247,252,257,261,264,268,271],
 [60,68,76,84,92,100,108,116,124,132,140,148,156,164,172,180,188,196,204,212,220,228,236,244,250,256,261,265,268,272],
 [58,66,74,82,90,98,106,114,122,130,138,146,154,162,170,178,186,194,202,210,218,226,234,242,250,257,263,270,277,281,284,286,287],
 [64,72,80,88,96,104,112,118,126,134,140,146,267],
 [60,66,72,78,84,90,96,102,108,114,120,126,132,138,144,150,158,166,174,182,190,198,206,214,222,230,238,246,252,256,262,268,274,279,285],
 [64,70,76,82,88,94,100,106,112,118,124,130,136,142,148,154,160,166,172,178,184,190,196,202,208,214,220,226,232,238,244,250,256,262],
 [64,70,78,86,94,102,110,118,126,134,142,150,158,166,174,182,190,198,206,214,222,230,238,246,254,262,268,275]
];
const obeseOrig = [
 [2.4,1.8,2.6,2.2,3.0,4.0,3.1,3.6,4.5,3.9,5.0,6.2,5.5,6.3,7.2,6.5,7.7,8.3,7.6,8.5,9.0,8.3,9.6,9.1,10.2,10.8,9.9,11.0,11.4,10.9,11.7,12.1,13.0,12.5,13.4,14.2,13.8,14.6,14.8,15.0,15.9,15.2,15.5,15.8],
 [-0.4,0.2,-0.6,0.0,0.8,0.3,1.3,1.8,1.5,2.5,3.1,2.8,4.0,4.7,4.3,5.6,6.5,6.1,7.6,8.5,9.2,10.0,11.0,11.6,11.8,12.4,12.8,13.8,13.0,13.2],
 [-0.8,-1.5,-0.9,-1.8,-1.1,-1.8,-0.9,-0.2,-0.9,0.4,1.5,2.7,4.0,4.6,5.6,6.8,7.5,8.0,8.9,9.6,9.9,10.4,11.0,11.6,12.4,12.8,13.0,12.6,12.3,9.6,10.4,11.2,11.0],
 [-1.2,-1.9,-2.4,-1.7,-2.6,-1.9,-2.8,-2.1,-1.3,0.2,1.6,3.2,9.0],
 [-0.4,-1.7,-1.1,-2.2,-1.5,-2.4,-1.8,-2.7,-2.0,-1.3,-2.0,-1.1,-1.8,-0.9,-1.3,0.0,-0.4,0.6,1.3,1.0,1.7,1.3,0.8,1.5,2.2,1.9,2.7,3.5,4.1,4.7,3.6,2.6,1.2,2.2,2.0],
 [-0.4,0.4,-0.2,0.8,0.2,1.0,0.4,1.3,0.8,1.7,1.1,2.0,1.5,2.4,1.8,2.9,2.4,3.2,2.7,3.7,3.2,4.0,3.5,4.3,3.8,4.6,5.3,4.7,5.6,5.0,6.4,4.4,5.9,6.7],
 [4.6,3.8,4.0,4.4,3.6,4.6,4.0,5.0,4.4,5.4,6.0,5.4,6.4,6.8,6.2,7.2,7.6,7.0,8.0,8.6,8.0,9.0,9.6,9.0,10.2,10.8,11.4,12.0]
];
const obeseTrans = [
 [2.4,1.8,2.6,2.2,3.0,4.2,3.2,3.8,4.9,4.2,5.6,7.2,6.2,7.4,8.8,7.8,9.6,10.6,9.6,11.1,12.0,10.8,13.3,12.4,14.4,15.6,13.8,16.0,16.9,15.8,17.6,18.4,20.7,19.6,22.0,23.9,22.8,25.9,26.4,27.2,31.0,29.1,30.5,31.7],
 [-0.4,0.2,-0.6,0.0,0.8,0.3,1.4,2.0,1.6,2.8,3.6,3.2,4.8,5.8,5.2,7.2,8.6,8.0,10.4,12.0,14.4,16.8,19.6,21.6,22.4,24.6,26.4,29.8,27.2,28.0],
 [-0.8,-1.4,-0.8,-1.6,-1.0,-1.6,-0.8,-0.2,-0.8,0.4,1.6,3.0,4.6,4.0,6.8,6.2,9.6,8.8,12.0,11.2,13.8,13.2,16.0,15.4,19.0,21.5,23.0,23.3,25.7,17.5,20.5,23.0,22.4],
 [-1.2,-1.8,-2.2,-1.6,-2.4,-1.8,-2.6,-2.0,-1.2,0.2,1.8,3.4,12.0],
 [-0.4,-1.6,-1.0,-2.0,-1.4,-2.2,-1.6,-2.4,-1.8,-1.2,-1.8,-1.0,-1.6,-0.8,-1.2,0.0,-0.4,0.6,1.4,1.0,1.8,1.4,0.8,1.6,2.4,2.0,3.0,4.0,4.8,5.6,4.2,3.0,-0.8,4.6,4.3],
 [-0.4,0.4,-0.2,0.8,0.2,1.0,0.4,1.4,0.8,1.8,1.2,2.2,1.6,2.6,2.0,3.2,2.6,3.6,3.0,4.2,3.6,4.6,4.0,5.0,4.4,5.4,6.4,5.6,6.8,6.0,8.0,5.2,7.2,8.4],
 [1.0,1.2,1.6,2.0,1.4,2.4,2.0,3.0,2.6,3.6,4.4,4.0,5.2,6.0,5.4,6.8,7.6,7.0,8.6,9.8,9.0,10.8,12.0,11.4,13.2,14.4,15.8,16.8]
];

// underweight
const underDays = [
 [75,113,115,128,130,133,137,140,143,146,150,153,157,162,168,173,178,180,183,186,190,195,200,205,210,214,218,222,227,231,235,240,245,253],
 [81,91,96,99,104,109,113,119,122,128,135,138,141,144,148,151,154,158,165,172,177,181,186,190,195,200,206,210,215,218,223,226,230,233,236,238,241,246,253,256,260,265,268,270,271],
 [51,53,60,65,70,80,90,100,105,113,118,125,135,140,145,150,160,175,180,185,200,213,220,230,240,248,260]
];
const underOrig = [
 [0.8,5.0,4.2,8.0,5.9,6.0,5.6,5.5,6.2,6.0,6.6,6.4,6.9,7.2,7.6,8.0,8.5,8.0,8.8,8.5,9.3,9.8,10.4,10.9,11.5,12.3,12.0,12.5,13.0,13.5,13.9,14.5,14.9,15.5],
 [0.3,0.5,1.4,1.1,2.0,2.1,2.3,4.0,3.6,4.3,5.4,6.0,5.2,6.3,6.0,6.9,6.6,7.2,7.6,8.2,8.0,8.8,9.0,9.2,9.8,10.2,10.5,10.8,11.4,11.2,11.8,11.6,12.1,12.5,12.1,12.9,12.7,13.4,13.5,13.9,13.8,14.3,14.2,14.8,14.3],
 [0.5,-0.5,-0.8,-0.9,-1.3,-1.8,-2.0,-1.8,-1.7,-1.5,-0.3,0.3,1.2,1.6,2.4,3.0,3.5,4.0,4.2,4.5,5.5,6.0,7.0,8.0,9.0,9.5,9.3]
];
const underTrans = [
 [0.8,6.1,4.6,9.3,5.8,6.5,5.8,5.5,7.5,7.0,8.5,8.0,9.5,10.5,11.5,12.5,14.0,12.5,14.5,13.8,16.0,17.5,19.0,20.5,22.5,25.0,24.5,26.0,27.5,29.0,30.5,33.0,34.5,37.5],
 [0.3,0.5,1.5,1.1,2.2,2.2,2.4,4.3,3.7,4.6,6.0,7.5,6.0,8.2,7.5,9.5,8.5,10.0,11.0,12.5,12.0,14.5,15.0,15.5,17.5,18.8,19.5,20.0,22.5,22.0,24.5,23.8,25.5,27.0,25.5,29.0,28.0,31.5,31.5,33.5,33.0,35.5,35.0,37.5,35.0],
 [0.5,-0.5,-0.6,-0.7,-1.2,-1.4,-1.5,-1.5,-1.4,-1.5,0.0,0.5,1.5,2.0,3.0,3.3,5.0,6.5,6.5,8.5,10.5,13.0,16.0,18.5,21.0,22.5,23.3]
];

// ---------------- CHARTS ----------------
const RED = '#ff0000', GREEN = '#00ff00';
const TICK_FONT = {family: "'Liberation Serif','DejaVu Serif',serif", size: 29};

function buildDatasets(days, orig, trans) {
  const out = [];
  for (let i = 0; i < days.length; i++) {
    const n = Math.min(days[i].length, orig[i].length, trans[i].length);
    const o = [], t = [];
    for (let j = 0; j < n; j++) {
      o.push({x: days[i][j], y: orig[i][j]});
      t.push({x: days[i][j], y: trans[i][j]});
    }
    out.push({data: o, borderColor: RED, borderWidth: 1.2, borderDash: [8.5, 5.5, 1.3, 5.5], pointRadius: 0, fill: false, tension: 0});
    out.push({data: t, borderColor: GREEN, borderWidth: 1.2, pointRadius: 0, fill: false, tension: 0});
  }
  return out.reverse();
}

const frameTicks = {
  id: 'frameTicks',
  beforeDatasetsDraw(chart) {
    const {ctx, chartArea: a, scales: {x, y}} = chart;
    ctx.save();
    ctx.strokeStyle = '#b0b0b0';
    ctx.lineWidth = 1.6;
    const L = 11;
    x.ticks.forEach(tk => {
      const px = x.getPixelForValue(tk.value);
      ctx.beginPath();
      ctx.moveTo(px, a.bottom); ctx.lineTo(px, a.bottom - L);
      ctx.moveTo(px, a.top); ctx.lineTo(px, a.top + L);
      ctx.stroke();
    });
    y.ticks.forEach(tk => {
      const py = y.getPixelForValue(tk.value);
      ctx.beginPath();
      ctx.moveTo(a.left, py); ctx.lineTo(a.left + L, py);
      ctx.moveTo(a.right, py); ctx.lineTo(a.right - L, py);
      ctx.stroke();
    });
    ctx.restore();
  },
  afterDatasetsDraw(chart) {
    const {ctx, chartArea: a} = chart;
    ctx.save();
    ctx.strokeStyle = '#000';
    ctx.lineWidth = 1.1;
    ctx.strokeRect(a.left, a.top, a.right - a.left, a.bottom - a.top);
    ctx.restore();
  }
};

function makeChart(id, xMin, xTicks, days, orig, trans) {
  return new Chart(document.getElementById(id), {
    type: 'line',
    data: {datasets: buildDatasets(days, orig, trans)},
    plugins: [frameTicks],
    options: {
      responsive: false,
      animation: false,
      devicePixelRatio: 1,
      events: [],
      layout: {padding: {left: 0, right: 27, top: 26, bottom: 0}},
      plugins: {legend: {display: false}, tooltip: {enabled: false}, title: {display: false}},
      scales: {
        x: {
          type: 'linear', min: xMin, max: 300,
          afterBuildTicks: s => { s.ticks = xTicks.map(v => ({value: v})); },
          afterFit: s => { s.height = 51; },
          grid: {display: false, drawTicks: false},
          border: {display: false},
          ticks: {font: TICK_FONT, color: '#111', padding: 3, maxRotation: 0, autoSkip: false}
        },
        y: {
          type: 'linear', min: -10, max: 60,
          afterBuildTicks: s => { s.ticks = yTicks.map(v => ({value: v})); },
          afterFit: s => { s.width = 47; },
          grid: {display: false, drawTicks: false},
          border: {display: false},
          ticks: {font: TICK_FONT, color: '#111', padding: 12}
        }
      }
    }
  });
}

makeChart('cNormal', 50, xTicksNarrow, normalDays, normalOrig, normalTrans);
makeChart('cOver', 0, xTicksWide, overDays, overOrig, overTrans);
makeChart('cObese', 50, xTicksNarrow, obeseDays, obeseOrig, obeseTrans);
makeChart('cUnder', 0, xTicksWide, underDays, underOrig, underTrans);
</script>
</body></html>
